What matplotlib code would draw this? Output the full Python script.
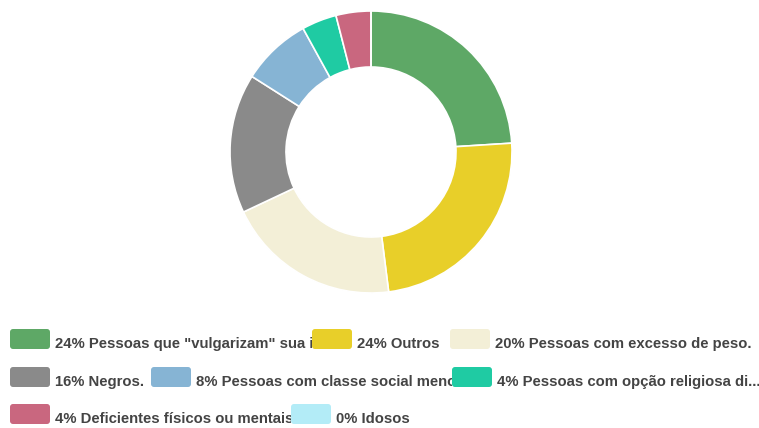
import matplotlib.pyplot as plt
from matplotlib.patches import FancyBboxPatch, Rectangle

labels = ['Pessoas que "vulgarizam" sua i', 'Outros', 'Pessoas com excesso de peso.',
          'Negros.', 'Pessoas com classe social meno', 'Pessoas com opção religiosa di...',
          'Deficientes físicos ou mentais', 'Idosos']
values = [24, 24, 20, 16, 8, 4, 4, 0]
colors = ['#5ea866', '#e8cf29', '#f3efd7', '#8a8a8a', '#86b4d4', '#1fcba3', '#c9677f', '#b3ecf7']

W, H = 759, 428
fig = plt.figure(figsize=(W / 100, H / 100), dpi=100)
ax = fig.add_axes([0, 0, 1, 1])

ax.pie(values, colors=colors, startangle=90, counterclock=False,
       center=(371, H - 152), radius=141,
       wedgeprops=dict(width=56, edgecolor='white', linewidth=1.2))
ax.set_xlim(0, W)
ax.set_ylim(0, H)
ax.set_aspect('equal')
ax.axis('off')

# legend layout: (swatch left x, row top y) in pixels
slots = [(10, 329), (312, 329), (450, 329),
         (10, 367), (151, 367), (452, 367),
         (10, 404), (291, 404)]
rows = [[0, 1, 2], [3, 4, 5], [6, 7]]

for row in rows:
    for k, i in enumerate(row):
        x, y = slots[i]
        sw = FancyBboxPatch((x + 2, H - y - 20 + 2), 36, 16,
                            boxstyle='round,pad=2,rounding_size=3',
                            facecolor=colors[i], edgecolor='none', zorder=3)
        ax.add_patch(sw)
        t = ax.text(x + 45, H - y - 15, f'{values[i]}% {labels[i]}',
                    fontsize=10.7, fontweight='bold', color='#444444',
                    family=['Liberation Sans', 'DejaVu Sans'],
                    va='center', ha='left', zorder=2)
        right = slots[row[k + 1]][0] if k + 1 < len(row) else W
        t.set_clip_on(True)
        t.set_clip_path(Rectangle((0, 0), right, H, transform=ax.transData))

fig.savefig('out.png', dpi=100)
